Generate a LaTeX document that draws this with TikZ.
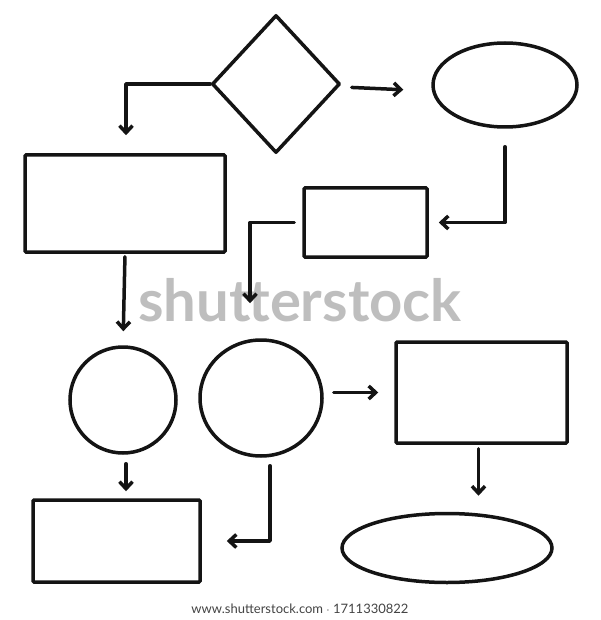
\documentclass[tikz,border=0pt]{standalone}
\usepackage{fontspec}
\newfontfamily\markfont{Lato}
\usepackage{tikz}
\usetikzlibrary{shapes,arrows.meta,positioning,calc}
\usepackage{xcolor}
\definecolor{inkblack}{RGB}{20,20,20}
\definecolor{markgray}{RGB}{190,190,190}

\begin{document}
\begin{tikzpicture}[x=1pt, y=-1pt,
    box/.style={rectangle, draw=inkblack, line width=3.5pt, rounded corners=1pt, inner sep=0pt},
    blob/.style={ellipse, draw=inkblack, line width=3.5pt, inner sep=0pt},
    arr/.style={-{Straight Barb[length=7pt, width=13pt]}, draw=inkblack, line width=3.5pt, line cap=round, line join=round}]

    \useasboundingbox (0,0) rectangle (600,620);

    % watermark
    \node[text=markgray, font=\markfont\bfseries\fontsize{58}{58}\selectfont] (mark) at (300,300) {shutterstock};
    \node[text=inkblack!80, font=\markfont\fontsize{13}{13}\selectfont] (site) at (300,609) {www.shutterstock.com $\cdot$ 1711330822};

    \node[shape=diamond, draw=inkblack, line width=3.5pt, line join=round, minimum width=128pt, minimum height=138pt, inner sep=0pt] (dia) at (276,84) {};
    \node[blob, minimum width=144pt, minimum height=84pt] (ovtop) at (505,85) {};
    \node[box, minimum width=200pt, minimum height=97pt] (rbig) at (125,203.5) {};
    \node[box, minimum width=123pt, minimum height=69pt] (rmid) at (365.5,222.5) {};

    \node[circle, draw=inkblack, line width=3.5pt, inner sep=0pt, minimum size=106pt] (cone) at (123,400) {};
    \node[blob, minimum width=122pt, minimum height=116pt] (ctwo) at (261,398) {};
    \node[box, minimum width=171pt, minimum height=101pt] (rright) at (481.5,392.5) {};

    \node[box, minimum width=167pt, minimum height=82pt] (rbot) at (116.5,541) {};
    \node[blob, minimum width=210pt, minimum height=69pt] (ovbot) at (447,548) {};

    \draw[arr, shorten >=18pt] (dia.west) -| ([xshift=1pt]rbig.north);
    \draw[arr, shorten <=10pt, shorten >=28pt] ([yshift=-3pt]dia.east) -- ([yshift=-6pt]ovtop.west);
    \draw[arr, shorten <=18pt, shorten >=10pt] (ovtop.south) |- (rmid.east);
    \draw[arr, shorten <=8pt, shorten >=35pt] (rmid.west) -| ([xshift=-11pt]ctwo.north);
    \draw[arr, shorten <=3pt, shorten >=14pt] (rbig.south) -- (cone.north);
    \draw[arr, shorten <=10pt, shorten >=16pt] (ctwo.east |- rright.west) -- (rright.west);
    \draw[arr, shorten <=4pt, shorten >=16pt] ([xshift=-3pt]rright.south) -- ([xshift=-3pt]rright.south |- ovbot.north);
    \draw[arr, shorten <=9pt, shorten >=7pt] ([xshift=3pt]cone.south) -- ([xshift=3pt]cone.south |- rbot.north);
    \draw[arr, shorten <=8pt, shorten >=25pt] ([xshift=9pt]ctwo.south) |- (rbot.east);
\end{tikzpicture}
\end{document}
